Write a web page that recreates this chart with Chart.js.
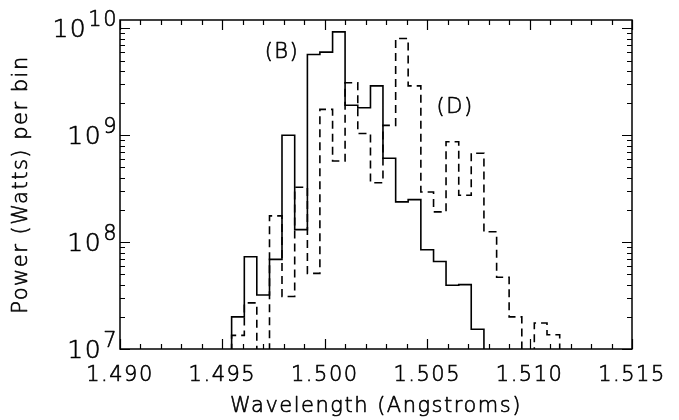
<!DOCTYPE html>
<html>
<head>
<meta charset="utf-8">
<script src="https://cdn.jsdelivr.net/npm/chart.js@4.4.1/dist/chart.umd.min.js"></script>
<style>
  html, body { margin: 0; padding: 0; background: #fff; }
  #wrap { width: 679px; height: 420px; position: relative; }
</style>
</head>
<body>
<div id="wrap"><canvas id="c"></canvas></div>
<script>
// ---- data ----
// histogram bin edges (Angstroms)
const binEdges = [1.49545, 1.49607, 1.49668, 1.49730, 1.49791, 1.49853, 1.49915, 1.49976,
                  1.50038, 1.50099, 1.50161, 1.50223, 1.50284, 1.50346, 1.50407, 1.50469,
                  1.50531, 1.50592, 1.50654, 1.50715, 1.50777, 1.50839, 1.50900, 1.50962,
                  1.51023, 1.51085, 1.51147];
// (B) solid histogram, Watts per bin
const powerB = [2.0e7, 7.3e7, 3.2e7, 6.9e7, 1.0e9, 1.31e8, 5.7e9, 6.0e9, 9.3e9, 1.91e9,
                1.81e9, 2.9e9, 6.1e8, 2.38e8, 2.5e8, 8.5e7, 6.6e7, 3.95e7, 4.0e7, 1.53e7];
// (D) dashed histogram, Watts per bin (values below 1e7 fall under the axis)
const powerD = [1.34e7, 2.7e7, 5e6, 1.76e8, 3.1e7, 3.27e8, 5.1e7, 1.75e9, 5.75e8, 3.1e9,
                1.04e9, 3.6e8, 1.24e9, 8.05e9, 2.9e9, 2.95e8, 1.92e8, 8.7e8, 2.75e8, 6.8e8,
                1.25e8, 4.7e7, 2.0e7, 5e6, 1.75e7, 1.36e7];
const floorValue = 1e6;
// axis ticks and titles
const xTickValues = [1.490, 1.495, 1.500, 1.505, 1.510, 1.515];
const yDecades = [1e7, 1e8, 1e9, 1e10];
const yExponents = ['7', '8', '9', '10'];
const xTitle = 'Wavelength (Angstroms)';
const yTitle = 'Power (Watts) per bin';
// curve labels
const curveLabels = ['(B)', '(D)'];
const curveLabelX = [1.49791, 1.50636];
const curveLabelY = [6.0e9, 1.83e9];

function stepPoints(vals) {
  const pts = [{x: binEdges[0], y: floorValue}];
  vals.forEach((v, i) => pts.push({x: binEdges[i], y: v}));
  pts.push({x: binEdges[vals.length], y: floorValue});
  return pts;
}

const FONT = "'DejaVu Sans', sans-serif";
const W = 200;
const TSW = 0.6;

function txt(ctx, s, x, y) {
  ctx.strokeText(s, x, y);
  ctx.fillText(s, x, y);
}

const decorPlugin = {
  id: 'decor',
  beforeDraw(chart) {
    chart.ctx.letterSpacing = '1.5px';
  },
  afterDraw(chart) {
    const ctx = chart.ctx;
    const a = chart.chartArea;
    const xs = chart.scales.x, ys = chart.scales.y;
    ctx.save();
    ctx.strokeStyle = '#000';
    ctx.lineWidth = 1.5;
    ctx.strokeRect(a.left, a.top, a.right - a.left, a.bottom - a.top);
    ctx.lineWidth = 1.2;
    ctx.beginPath();
    // x ticks (bottom and top), minor each 0.001
    for (let i = 0; i <= 25; i++) {
      const v = 1.490 + i * 0.001;
      const px = Math.round(xs.getPixelForValue(v)) + 0.5;
      const len = (i % 5 === 0) ? 10 : 5;
      ctx.moveTo(px, a.bottom); ctx.lineTo(px, a.bottom - len);
      ctx.moveTo(px, a.top); ctx.lineTo(px, a.top + len);
    }
    // y ticks (left and right)
    for (let d = 7; d <= 10; d++) {
      for (let m = 1; m <= 9; m++) {
        const v = m * Math.pow(10, d);
        if (v < ys.min || v > ys.max) continue;
        const py = Math.round(ys.getPixelForValue(v)) + 0.5;
        const len = (m === 1) ? 10 : 5;
        ctx.moveTo(a.left, py); ctx.lineTo(a.left + len, py);
        ctx.moveTo(a.right, py); ctx.lineTo(a.right - len, py);
      }
    }
    ctx.stroke();

    ctx.fillStyle = '#000';
    ctx.lineWidth = TSW;
    ctx.lineJoin = 'round';
    // y tick labels 10^n
    ctx.textBaseline = 'alphabetic';
    ctx.textAlign = 'right';
    yDecades.forEach((v, i) => {
      const py = ys.getPixelForValue(v);
      ctx.font = W + ' 21px ' + FONT;
      const expW = ctx.measureText(yExponents[i]).width;
      const right = a.left - 2;
      txt(ctx, yExponents[i], right, py - 2);
      ctx.font = W + ' 25px ' + FONT;
      txt(ctx, '10', right - expW - 1, py + 9);
    });
    // axis titles
    ctx.font = W + ' 21px ' + FONT;
    ctx.textAlign = 'center';
    ctx.textBaseline = 'middle';
    txt(ctx, xTitle, (a.left + a.right) / 2, 407);
    ctx.save();
    ctx.translate(22, (a.top + a.bottom) / 2);
    ctx.rotate(-Math.PI / 2);
    txt(ctx, yTitle, 0, 0);
    ctx.restore();
    // curve labels
    curveLabels.forEach((t, i) => {
      txt(ctx, t, xs.getPixelForValue(curveLabelX[i]), ys.getPixelForValue(curveLabelY[i]));
    });
    ctx.restore();
  }
};

new Chart(document.getElementById('c'), {
  type: 'line',
  data: {
    datasets: [
      { label: '(B)', data: stepPoints(powerB), stepped: 'before', borderColor: '#000',
        borderWidth: 1.6, pointRadius: 0, fill: false },
      { label: '(D)', data: stepPoints(powerD), stepped: 'before', borderColor: '#000',
        borderWidth: 1.6, borderDash: [8, 5], pointRadius: 0, fill: false }
    ]
  },
  options: {
    responsive: true,
    maintainAspectRatio: false,
    animation: false,
    events: [],
    layout: { padding: { left: 0, top: 20, right: 47, bottom: 0 } },
    plugins: { legend: { display: false }, tooltip: { enabled: false } },
    scales: {
      x: {
        type: 'linear', position: 'bottom', min: 1.490, max: 1.515,
        afterFit(s) { s.height = 71; },
        afterBuildTicks(s) { s.ticks = xTickValues.map(v => ({value: v})); },
        grid: { display: false, drawTicks: false },
        border: { display: false },
        ticks: { color: '#000', font: { family: FONT, size: 21, weight: W }, padding: 14, maxRotation: 0,
                 textStrokeColor: '#000', textStrokeWidth: TSW,
                 autoSkip: false, callback: v => Number(v).toFixed(3) },
        title: { display: false }
      },
      y: {
        type: 'logarithmic', position: 'left', min: 1e7, max: 1.2e10,
        afterFit(s) { s.width = 120; },
        grid: { display: false, drawTicks: false },
        border: { display: false },
        ticks: { display: false },
        title: { display: false }
      }
    }
  },
  plugins: [decorPlugin]
});
</script>
</body>
</html>
